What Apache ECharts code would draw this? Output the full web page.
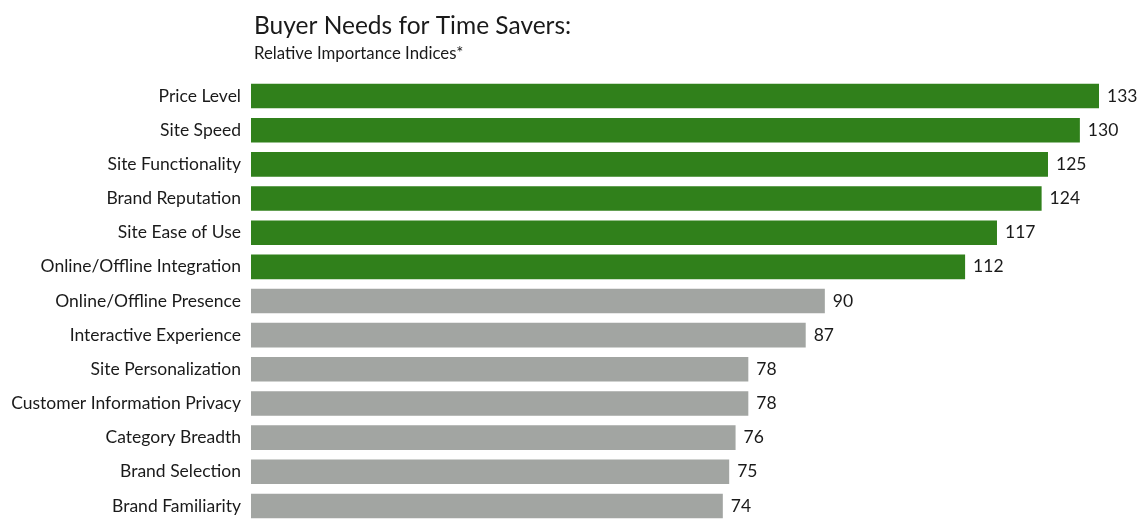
<!DOCTYPE html>
<html>
<head>
<meta charset="utf-8">
<script src="https://cdn.jsdelivr.net/npm/echarts@6/dist/echarts.min.js"></script>
<style>
  html, body { margin: 0; padding: 0; background: #fff; overflow: hidden; }
  #chart { width: 1139px; height: 540px; }
</style>
</head>
<body>
<div id="chart"></div>
<script>
// Attributes, top to bottom
const categories = [
  'Price Level', 'Site Speed', 'Site Functionality', 'Brand Reputation',
  'Site Ease of Use', 'Online/Offline Integration', 'Online/Offline Presence',
  'Interactive Experience', 'Site Personalization', 'Customer Information Privacy',
  'Category Breadth', 'Brand Selection', 'Brand Familiarity'
];
// Relative importance index per attribute
const values = [133, 130, 125, 124, 117, 112, 90, 87, 78, 78, 76, 75, 74];
// Attributes highlighted as top needs
const highlighted = [true, true, true, true, true, true, false, false, false, false, false, false, false];

const GREEN = '#30801b';
const GREY = '#a2a5a2';
const FONT = 'Lato';

const chart = echarts.init(document.getElementById('chart'));
chart.setOption({
  animation: false,
  title: {
    text: 'Buyer Needs for Time Savers:',
    subtext: 'Relative Importance Indices*',
    left: 249,
    top: 9,
    itemGap: 6,
    textStyle: { fontFamily: FONT, fontSize: 24.5, fontWeight: 'normal', color: '#1a1a1a' },
    subtextStyle: { fontFamily: FONT, fontSize: 16.8, color: '#1a1a1a' }
  },
  grid: { left: 251, top: 79, width: 848, height: 444, containLabel: false, outerBoundsMode: 'none' },
  xAxis: {
    type: 'value', min: 0, max: 133, show: false
  },
  yAxis: {
    type: 'category',
    inverse: true,
    data: categories,
    axisLine: { show: false },
    axisTick: { show: false },
    axisLabel: { fontFamily: FONT, fontSize: 17.5, color: '#1a1a1a', margin: 10 }
  },
  series: [{
    type: 'bar',
    barCategoryGap: '28%',
    data: values.map((v, i) => ({
      value: v,
      itemStyle: { color: highlighted[i] ? GREEN : GREY }
    })),
    label: {
      show: true, position: 'right', distance: 8,
      fontFamily: FONT, fontSize: 17.5, color: '#1a1a1a'
    }
  }]
});
</script>
</body>
</html>
